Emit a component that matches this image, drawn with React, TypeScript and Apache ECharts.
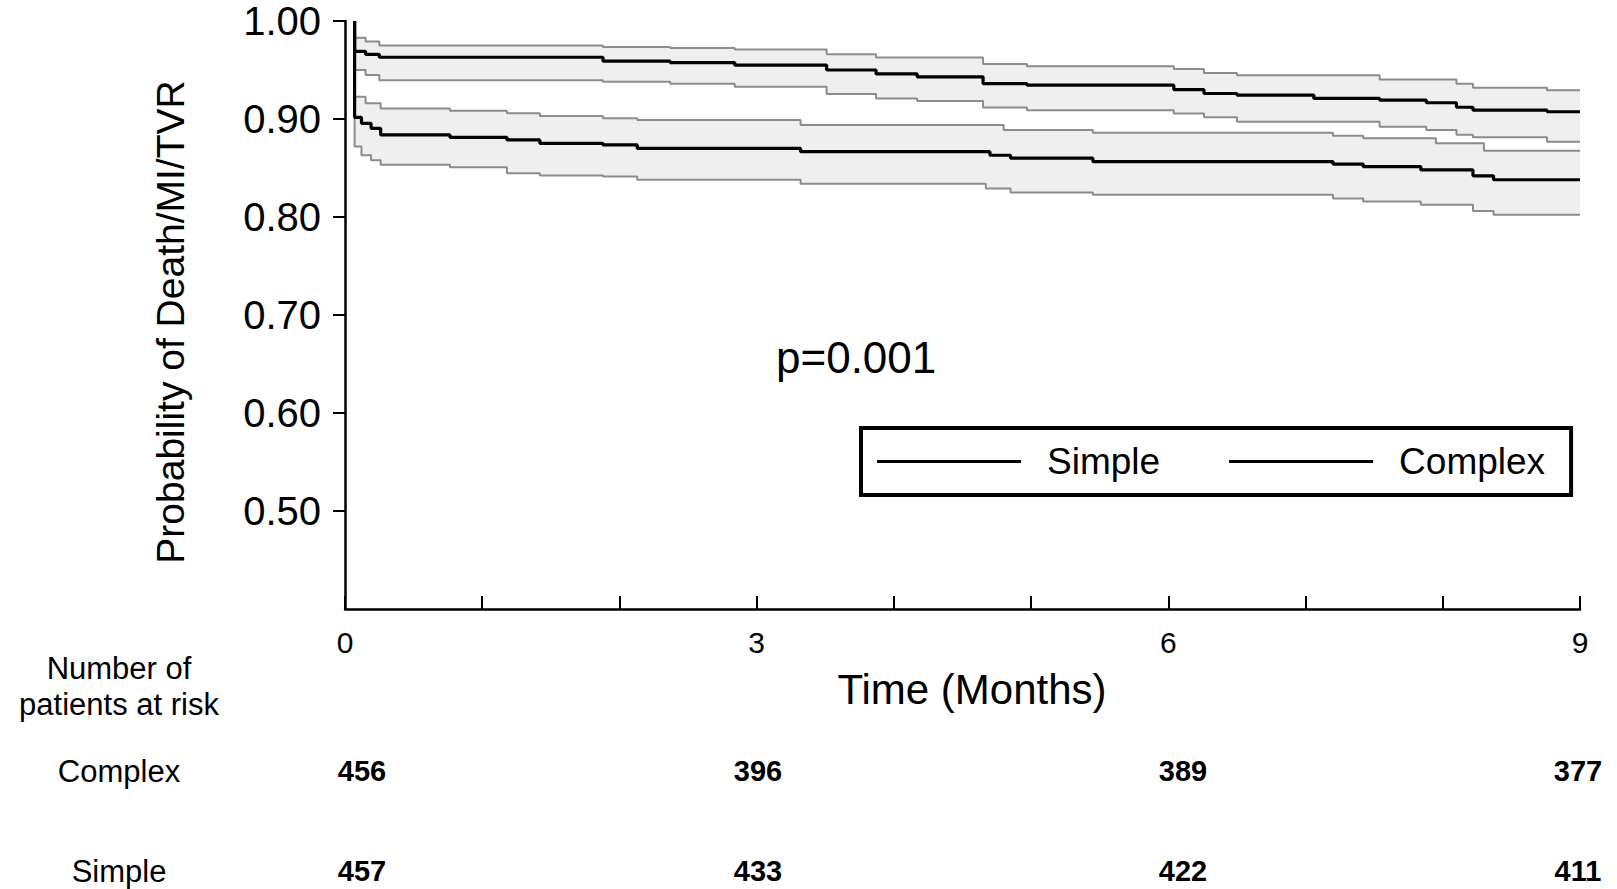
import React, { useEffect, useRef } from "react";
import * as echarts from "echarts";

// Kaplan-Meier estimates: [time in months, probability]
const simpleKM: number[][] = [
  [0.07, 1.0], [0.07, 0.969], [0.15, 0.966], [0.25, 0.963], [1.88, 0.959], [2.37, 0.9576],
  [2.84, 0.955], [3.51, 0.95], [3.87, 0.946], [4.17, 0.943], [4.65, 0.936], [4.97, 0.9345],
  [6.04, 0.93], [6.26, 0.926], [6.5, 0.9244], [7.06, 0.921], [7.54, 0.9193], [7.88, 0.9166],
  [8.1, 0.912], [8.22, 0.909], [8.76, 0.9074], [9.0, 0.9074],
];
const simpleUpper: number[][] = [
  [0.07, 1.0], [0.07, 0.983], [0.15, 0.979], [0.25, 0.975], [1.88, 0.9735], [2.37, 0.9725],
  [2.84, 0.971], [3.51, 0.966], [3.87, 0.9627], [4.65, 0.956], [4.97, 0.9538], [6.04, 0.951],
  [6.26, 0.947], [6.5, 0.9447], [7.54, 0.9403], [8.1, 0.936], [8.22, 0.932], [8.76, 0.9294],
  [9.0, 0.9294],
];
const simpleLower: number[][] = [
  [0.07, 1.0], [0.07, 0.95], [0.15, 0.945], [0.25, 0.9396], [1.88, 0.938], [2.37, 0.936],
  [2.84, 0.933], [3.51, 0.9254], [3.87, 0.921], [4.17, 0.9183], [4.65, 0.9118], [4.97, 0.909],
  [6.04, 0.9057], [6.26, 0.9017], [6.5, 0.8972], [7.54, 0.8921], [7.88, 0.8888], [8.1, 0.884],
  [8.22, 0.8813], [8.76, 0.8769], [9.0, 0.8769],
];
const complexKM: number[][] = [
  [0.07, 1.0], [0.07, 0.9017], [0.12, 0.8956], [0.19, 0.8905], [0.26, 0.8837], [0.765, 0.8813],
  [1.18, 0.8786], [1.42, 0.8752], [1.88, 0.8735], [2.13, 0.87], [3.32, 0.8667], [4.7, 0.863],
  [4.85, 0.86], [5.45, 0.8566], [7.2, 0.854], [7.42, 0.8515], [7.84, 0.848], [8.22, 0.842],
  [8.37, 0.838], [9.0, 0.838],
];
const complexUpper: number[][] = [
  [0.07, 1.0], [0.07, 0.9226], [0.15, 0.916], [0.26, 0.9108], [0.765, 0.9084], [1.18, 0.9058],
  [1.42, 0.903], [1.88, 0.9007], [2.13, 0.899], [3.32, 0.8939], [4.8, 0.8888], [5.45, 0.886],
  [7.2, 0.883], [7.42, 0.8803], [7.95, 0.8752], [8.3, 0.8677], [9.0, 0.8677],
];
const complexLower: number[][] = [
  [0.07, 1.0], [0.07, 0.872], [0.12, 0.863], [0.19, 0.858], [0.26, 0.8532], [0.765, 0.8508],
  [1.18, 0.8447], [1.42, 0.8423], [1.88, 0.8413], [2.13, 0.838], [3.32, 0.8339], [4.67, 0.829],
  [4.85, 0.825], [5.45, 0.8227], [7.2, 0.819], [7.42, 0.8159], [7.84, 0.8125], [8.22, 0.806],
  [8.37, 0.8024], [9.0, 0.8024],
];

// Axis ticks
const yTickValues = [0.5, 0.6, 0.7, 0.8, 0.9, 1.0];
const xLabelValues = [0, 3, 6, 9];

// Number of patients at risk
const riskTimes = [0, 3, 6, 9];
const complexAtRisk = [456, 396, 389, 377];
const simpleAtRisk = [457, 433, 422, 411];
const pValueText = "p=0.001";

// layout
const riskLabelX = [362, 758, 1183, 1578];
const FONT = "'Liberation Sans', Arial, Helvetica, sans-serif";

function stepPoints(pts: number[][]): number[][] {
  const out: number[][] = [pts[0]];
  for (let i = 1; i < pts.length; i++) {
    out.push([pts[i][0], pts[i - 1][1]]);
    out.push(pts[i]);
  }
  return out;
}

function bandSeries(name: string, upper: number[][], lower: number[][]) {
  const poly = stepPoints(upper).concat(stepPoints(lower).reverse());
  return {
    type: "custom",
    name,
    silent: true,
    z: 1,
    data: [[0, 0.9]],
    renderItem: (_params: any, api: any) => ({
      type: "polygon",
      shape: { points: poly.map((p) => api.coord(p)) },
      style: { fill: "#efefef", stroke: "none" },
    }),
  };
}

function ciLine(name: string, data: number[][]) {
  return {
    type: "line",
    name,
    data,
    step: "end",
    symbol: "none",
    silent: true,
    z: 2,
    lineStyle: { color: "#8c8c8c", width: 2 },
    itemStyle: { color: "#8c8c8c" },
  };
}

function mainLine(name: string, data: number[][]) {
  return {
    type: "line",
    name,
    data,
    step: "end",
    symbol: "none",
    z: 3,
    lineStyle: { color: "#000", width: 3.2 },
    itemStyle: { color: "#000" },
  };
}

export default function App() {
  const ref = useRef<HTMLDivElement>(null);

  useEffect(() => {
    if (!ref.current) return;
    const chart = echarts.init(ref.current, null, { renderer: "svg" });

    const txt = (text: string, x: number, y: number, fontSize: number, extra: any = {}) => ({
      type: "text",
      x,
      y,
      ...extra.el,
      style: {
        text,
        fontSize,
        fontFamily: FONT,
        fill: "#000",
        align: "center",
        verticalAlign: "middle",
        ...extra.style,
      },
    });

    const graphics: any[] = [
      txt("Probability of Death/MI/TVR", 170, 322, 39, { el: { rotation: Math.PI / 2 } }),
      txt("Time (Months)", 972, 689, 42),
      txt(pValueText, 776, 357, 44, { style: { align: "left" } }),
      txt("Number of\npatients at risk", 119, 686, 31, { style: { lineHeight: 36 } }),
      txt("Complex", 119, 771, 31),
      txt("Simple", 119, 871, 31),
    ];
    riskTimes.forEach((_t, i) => {
      graphics.push(txt(String(complexAtRisk[i]), riskLabelX[i], 771, 29, { style: { fontWeight: "bold" } }));
      graphics.push(txt(String(simpleAtRisk[i]), riskLabelX[i], 871, 29, { style: { fontWeight: "bold" } }));
    });

    chart.setOption({
      animation: false,
      backgroundColor: "#fff",
      grid: { left: 345, right: 37, top: 21, bottom: 280, containLabel: false },
      legend: {
        data: ["Simple", "Complex"],
        left: 861,
        top: 428,
        orient: "horizontal",
        borderColor: "#000",
        borderWidth: 4,
        padding: [13, 26, 13, 16],
        icon: "rect",
        itemWidth: 144,
        itemHeight: 3,
        itemGap: 69,
        selectedMode: false,
        itemStyle: { color: "#000", borderWidth: 0 },
        textStyle: {
          fontSize: 37,
          lineHeight: 41,
          fontFamily: FONT,
          color: "#000",
          padding: [0, 0, 0, 21],
        },
      },
      xAxis: {
        type: "value",
        min: 0,
        max: 9,
        interval: 1,
        axisLine: { show: true, lineStyle: { color: "#000", width: 2.5 } },
        axisTick: { show: true, inside: true, length: 13, lineStyle: { color: "#000", width: 2 } },
        axisLabel: {
          formatter: (v: number) => (xLabelValues.indexOf(v) >= 0 ? String(v) : ""),
          fontSize: 30,
          fontFamily: FONT,
          color: "#000",
          margin: 18,
        },
        splitLine: { show: false },
      },
      yAxis: {
        type: "value",
        min: 0.4,
        max: 1.0,
        interval: 0.1,
        axisLine: { show: true, lineStyle: { color: "#000", width: 2.5 } },
        axisTick: {
          show: true,
          length: 12,
          customValues: yTickValues,
          lineStyle: { color: "#000", width: 2 },
        },
        axisLabel: {
          customValues: yTickValues,
          formatter: (v: number) => (v < 0.45 ? "" : v.toFixed(2)),
          fontSize: 40,
          fontFamily: FONT,
          color: "#000",
          margin: 24,
        },
        splitLine: { show: false },
      },
      series: [
        bandSeries("Simple 95% CI", simpleUpper, simpleLower),
        bandSeries("Complex 95% CI", complexUpper, complexLower),
        ciLine("Simple upper CI", simpleUpper),
        ciLine("Simple lower CI", simpleLower),
        ciLine("Complex upper CI", complexUpper),
        ciLine("Complex lower CI", complexLower),
        mainLine("Simple", simpleKM),
        mainLine("Complex", complexKM),
      ],
      graphic: graphics,
    });

    return () => {
      chart.dispose();
    };
  }, []);

  return (
    <div
      ref={ref}
      style={{ position: "absolute", left: 0, top: 0, width: 1617, height: 889, background: "#fff" }}
    />
  );
}
